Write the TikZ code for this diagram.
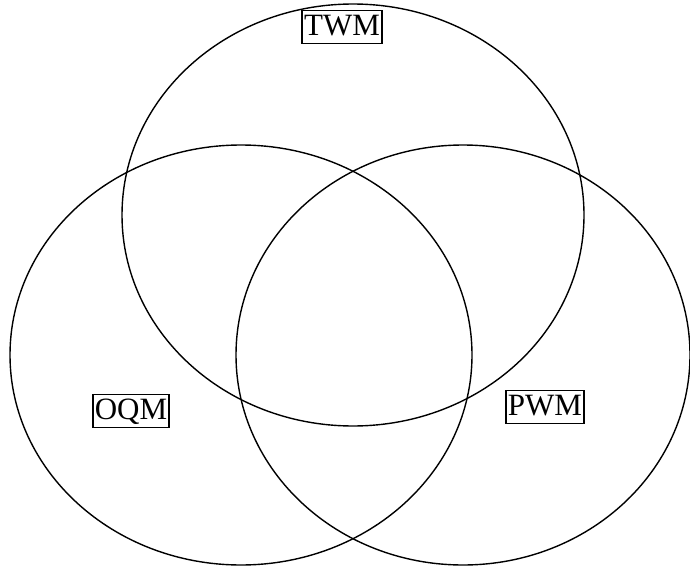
\documentclass[tikz,border=0pt]{standalone}
\usepackage{fontspec}
\setmainfont{Liberation Serif}
\begin{document}
\begin{tikzpicture}[x=1pt,y=-1pt,
  circ/.style={draw=black,line width=1.4pt},
  lbl/.style={draw=black,line width=1.6pt,inner xsep=2pt,inner ysep=3pt,text height=22pt,text depth=5pt,font=\fontsize{31}{34}\selectfont}]
\useasboundingbox (0,0) rectangle (690,567);
\draw[circ] (353,215) ellipse [x radius=231, y radius=211];
\draw[circ] (241,355) ellipse [x radius=231, y radius=210];
\draw[circ] (463,355) ellipse [x radius=227, y radius=210];
\node[lbl] (twm) at (342,27) {TWM};
\node[lbl] (oqm) at (131,411) {OQM};
\node[lbl] (pwm) at (545,407) {PWM};
\end{tikzpicture}
\end{document}
